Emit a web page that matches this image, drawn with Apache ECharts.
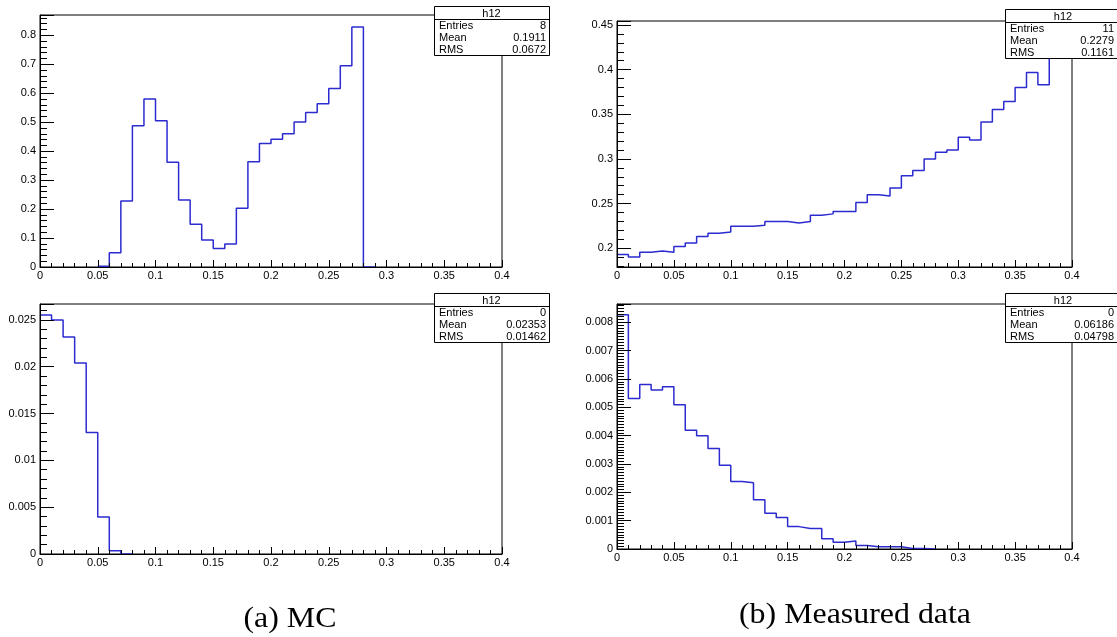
<!DOCTYPE html>
<html>
<head>
<meta charset="utf-8">
<script src="https://cdn.jsdelivr.net/npm/echarts@6/dist/echarts.min.js"></script>
<style>
html,body{margin:0;padding:0;background:#fff;}
#chart{width:1117px;height:637px;}
</style>
</head>
<body>
<div id="chart"></div>
<script>
// 40 bins of width 0.01 from 0 to 0.4
var BIN_W = 0.01;
var mcTop = [0,0,0,0,0,0.003,0.049,0.228,0.488,0.580,
  0.505,0.362,0.231,0.148,0.093,0.064,0.079,0.203,0.363,0.426,
  0.441,0.460,0.501,0.533,0.564,0.616,0.695,0.829,0,0,
  0,0,0,0,0,0,0,0,0,0];
var dataTop = [0.1929,0.1903,0.1955,0.1970,0.1955,0.2019,0.2060,0.2131,0.2168,0.2183,
  0.2247,0.2247,0.2258,0.2299,0.2299,0.2284,0.2299,0.2370,0.2385,0.2412,
  0.2412,0.2513,0.2599,0.2584,0.2674,0.2812,0.2872,0.2999,0.3074,0.3100,
  0.3243,0.3213,0.3415,0.3553,0.3643,0.3800,0.3969,0.3830,0.4280,0.4340];
var mcBottom = [0.02553,0.02499,0.02317,0.02039,0.01298,0.00396,0.00036,0,0,0,
  0,0,0,0,0,0,0,0,0,0,
  0,0,0,0,0,0,0,0,0,0,
  0,0,0,0,0,0,0,0,0,0];
var dataBottom = [0.00827,0.00531,0.00581,0.00561,0.00573,0.00509,0.00419,0.00400,0.00355,0.00296,
  0.00238,0.00234,0.00174,0.00126,0.00111,0.00079,0.00072,0.00072,0.00036,0.00024,
  0.00028,0.00012,0.00008,0.00008,0.00008,0.00002,0.00002,0,0,0,
  0,0,0,0,0,0,0,0,0,0];

// stat boxes: TL, TR, BL, BR
var statEntries = ['8', '11', '0', '0'];
var statMean = ['0.1911', '0.2279', '0.02353', '0.06186'];
var statRms = ['0.0672', '0.1161', '0.01462', '0.04798'];

var captions = ['(a) MC', '(b) Measured data'];

var BLUE = '#2b2bcf';
var FONT = '"Liberation Sans", Arial, sans-serif';

// step points at bin low edges; empty bins that sit on the axis are left out (axis covers them in ROOT)
function histPoints(vals) {
  var pts = [];
  var n = vals.length;
  for (var i = 0; i <= n; i++) {
    var v = i < n ? vals[i] : vals[n - 1];
    var prev = i > 0 ? vals[i - 1] : 0;
    if (v === 0 && prev === 0) pts.push([i * BIN_W, null]);
    else pts.push([i * BIN_W, v]);
  }
  return pts;
}

function xAxisFor(gi) {
  return {
    type: 'value', gridIndex: gi, min: 0, max: 0.4, interval: 0.05, z: 5,
    axisLine: { show: true, onZero: false, lineStyle: { color: '#000', width: 1 } },
    axisTick: { show: true, inside: true, length: 7, lineStyle: { color: '#000' } },
    minorTick: { show: true, splitNumber: 5, length: 4, lineStyle: { color: '#000' } },
    splitLine: { show: false },
    axisLabel: { color: '#000', fontSize: 11, fontFamily: FONT, margin: 3, showMinLabel: true, showMaxLabel: true }
  };
}

function yAxisFor(gi, min, max, interval, minorSplit) {
  var ax = {
    type: 'value', gridIndex: gi, min: min, max: max, z: 5,
    axisLine: { show: true, onZero: false, lineStyle: { color: '#000', width: 1 } },
    axisTick: { show: true, inside: true, length: 14, lineStyle: { color: '#000' } },
    minorTick: { show: true, splitNumber: minorSplit, length: 7, lineStyle: { color: '#000' } },
    splitLine: { show: false },
    axisLabel: { color: '#000', fontSize: 11, fontFamily: FONT, margin: 4, showMinLabel: min === 0, showMaxLabel: false }
  };
  if (interval) ax.interval = interval; else ax.splitNumber = 5;
  return ax;
}

function statBox(x, y, w, k) {
  var h = 49, head = 13, row = 12;
  var font = '11px ' + FONT;
  var els = [
    { type: 'rect', z: 100, shape: { x: x + 0.5, y: y + 0.5, width: w, height: h },
      style: { fill: '#fff', stroke: '#000', lineWidth: 1 } },
    { type: 'line', z: 101, shape: { x1: x, y1: y + head + 0.5, x2: x + w, y2: y + head + 0.5 },
      style: { stroke: '#000', lineWidth: 1 } },
    { type: 'text', z: 102, x: x + w / 2, y: y + head / 2 + 1,
      style: { text: 'h12', font: font, fill: '#000', textAlign: 'center', textVerticalAlign: 'middle', align: 'center', verticalAlign: 'middle' } }
  ];
  var names = ['Entries', 'Mean', 'RMS'];
  var vals = [statEntries[k], statMean[k], statRms[k]];
  for (var i = 0; i < 3; i++) {
    var cy = y + head + row / 2 + i * row + 0.5;
    els.push({ type: 'text', z: 102, x: x + 5, y: cy,
      style: { text: names[i], font: font, fill: '#000', textAlign: 'left', textVerticalAlign: 'middle', align: 'left', verticalAlign: 'middle' } });
    els.push({ type: 'text', z: 102, x: Math.min(x + w - 3, 1114), y: cy,
      style: { text: vals[i], font: font, fill: '#000', textAlign: 'right', textVerticalAlign: 'middle', align: 'right', verticalAlign: 'middle' } });
  }
  return els;
}

var grids = [
  { left: 40, top: 15, width: 462, height: 252 },
  { left: 617, top: 21, width: 455, height: 246 },
  { left: 40, top: 304, width: 462, height: 250 },
  { left: 617, top: 304, width: 455, height: 245 }
];

var chart = echarts.init(document.getElementById('chart'), null, { renderer: 'canvas' });

var graphics = []
  .concat(statBox(434, 6, 115, 0))
  .concat(statBox(1005, 9, 116, 1))
  .concat(statBox(434, 293, 115, 2))
  .concat(statBox(1005, 293, 116, 3));
graphics.push({ type: 'text', z: 100, x: 290, y: 619, scaleX: 1.1,
  style: { text: captions[0], font: '29px "Liberation Serif", serif', fill: '#000', textAlign: 'center', textVerticalAlign: 'middle', align: 'center', verticalAlign: 'middle' } });
graphics.push({ type: 'text', z: 100, x: 855, y: 615, scaleX: 1.1,
  style: { text: captions[1], font: '29px "Liberation Serif", serif', fill: '#000', textAlign: 'center', textVerticalAlign: 'middle', align: 'center', verticalAlign: 'middle' } });

chart.setOption({
  animation: false,
  backgroundColor: '#fff',
  grid: grids.map(function (g) {
    return { left: g.left, top: g.top, width: g.width, height: g.height, show: true,
      borderColor: '#000', borderWidth: 1, backgroundColor: 'transparent', containLabel: false };
  }),
  xAxis: [xAxisFor(0), xAxisFor(1), xAxisFor(2), xAxisFor(3)],
  yAxis: [
    yAxisFor(0, 0, 0.87, 0.1, 5),
    yAxisFor(1, 0.179, 0.4545, null, 5),
    yAxisFor(2, 0, 0.0267, 0.005, 5),
    yAxisFor(3, 0, 0.00865, 0.001, 10)
  ],
  series: [mcTop, dataTop, mcBottom, dataBottom].map(function (vals, i) {
    return {
      type: 'line', xAxisIndex: i, yAxisIndex: i, step: 'end', showSymbol: false,
      data: histPoints(vals), z: 2, clip: true, connectNulls: false,
      lineStyle: { color: BLUE, width: 1.5 }
    };
  }),
  graphic: graphics
});
</script>
</body>
</html>
